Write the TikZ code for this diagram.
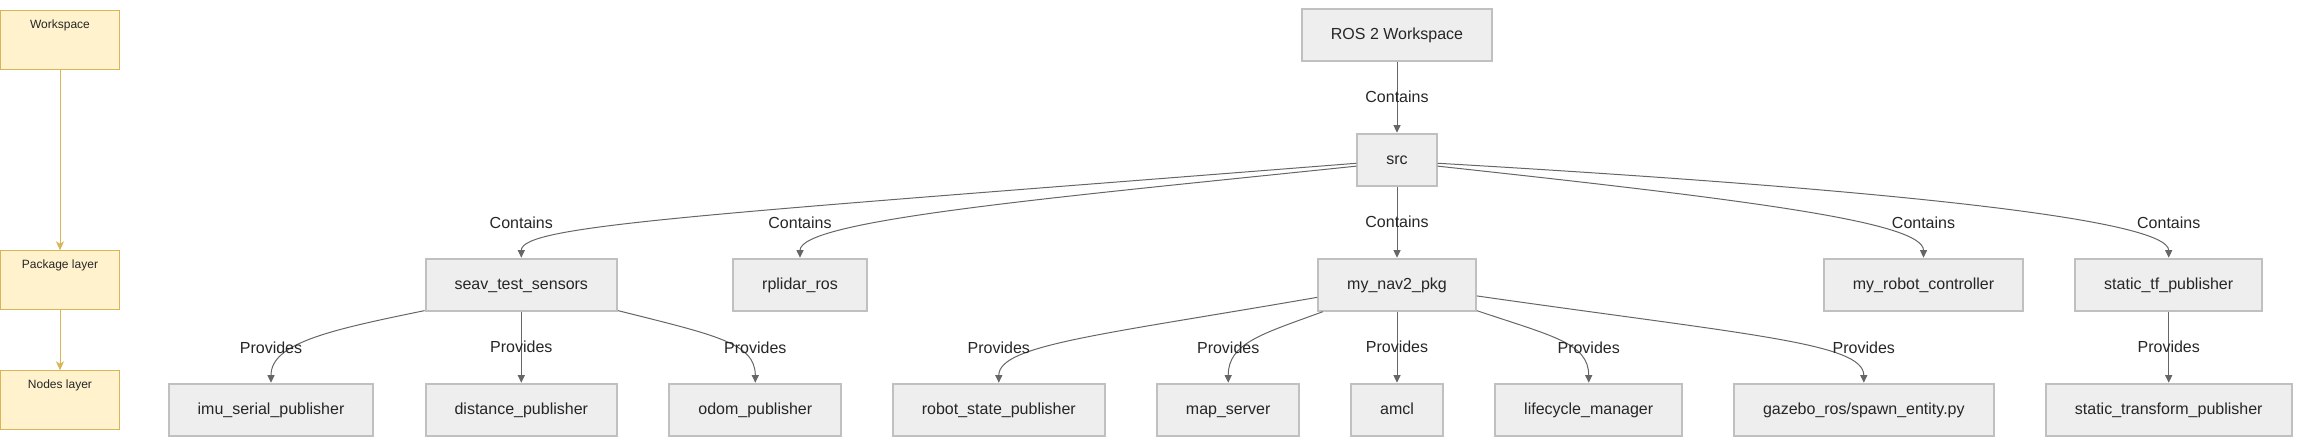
\documentclass[tikz,border=0pt]{standalone}
\usepackage{fontspec}
\setmainfont{Liberation Sans}
\usetikzlibrary{arrows.meta}
\usetikzlibrary{positioning}

\definecolor{pkgfill}{HTML}{EEEEEE}
\definecolor{pkgline}{HTML}{C0C0C0}
\definecolor{linkgray}{HTML}{666666}
\definecolor{legfill}{HTML}{FFF2CC}
\definecolor{legline}{HTML}{D6B656}

\begin{document}
\begin{tikzpicture}[x=1pt, y=-1pt,
                    node distance=71pt,
                    every node/.style={text=black!85},
                    box/.style={draw=pkgline,
                      fill=pkgfill,
                      line width=2pt,
                      minimum height=52pt,
                      inner xsep=29pt,
                      text height=12pt,
                      text depth=1.5pt,
                      font=\fontsize{16}{19}\selectfont},
                    legend/.style={draw=legline,
                      fill=legfill,
                      line width=1pt,
                      minimum width=119pt,
                      minimum height=59pt,
                      inner sep=0pt,
                      text height=18pt,
                      text depth=41pt,
                      font=\fontsize{12}{14}\selectfont},
                    lbl/.style={inner sep=0pt,
                      text height=12pt,
                      text depth=1.5pt,
                      font=\fontsize{16}{19}\selectfont},
                    link/.style={draw=linkgray, line width=1pt,
                      -{Triangle[length=7.5pt,width=7pt]}},
                    leglink/.style={draw=legline, line width=1pt,
                      -{Stealth[length=9pt,width=8pt,inset=2.5pt]}}]
\useasboundingbox (0,0) rectangle (2301,445);

% legend
\node (wslayer) [legend] at (60,40.3) {Workspace};
\node (pkglayer) [legend, below=180pt of wslayer] {Package layer};
\node (nodelayer) [legend, below=60pt of pkglayer] {Nodes layer};
\draw[leglink] (wslayer) -- (pkglayer);
\draw[leglink] (pkglayer) -- (nodelayer);

% workspace and packages
\node (ws) [box] at (1397,34.7) {ROS 2 Workspace};
\node (src) [box, below=of ws] {src};
\node (nav) [box, below=of src] {my\_nav2\_pkg};
\node (seav) [box] at (521.3,284.7) {seav\_test\_sensors};
\node (lidar) [box] at (800,284.7) {rplidar\_ros};
\node (ctrl) [box] at (1923.5,284.7) {my\_robot\_controller};
\node (stf) [box] at (2168.7,284.7) {static\_tf\_publisher};

% nodes
\node (imu) [box] at (271,409.7) {imu\_serial\_publisher};
\node (dist) [box, below=of seav] {distance\_publisher};
\node (odom) [box] at (755.3,409.7) {odom\_publisher};
\node (rsp) [box] at (998.8,409.7) {robot\_state\_publisher};
\node (map) [box] at (1228.2,409.7) {map\_server};
\node (amcl) [box, below=of nav] {amcl};
\node (life) [box] at (1588.7,409.7) {lifecycle\_manager};
\node (spawn) [box] at (1863.8,409.7) {gazebo\_ros/spawn\_entity.py};
\node (stp) [box, below=of stf] {static\_transform\_publisher};

\draw[link] (ws) -- (src) node[lbl, midway] {Contains};
\draw[link] (src.185) .. controls (700,215) and (521.3,225) .. (seav.north)
  node[lbl, at end, yshift=34.7pt] {Contains};
\draw[link] (src.189) .. controls (1050,198) and (800,220) .. (lidar.north)
  node[lbl, at end, yshift=34.7pt] {Contains};
\draw[link] (src) -- (nav) node[lbl, midway] {Contains};
\draw[link] (src.351) .. controls (1750,200) and (1923.5,222) .. (ctrl.north)
  node[lbl, at end, yshift=34.7pt] {Contains};
\draw[link] (src.355) .. controls (1900,190) and (2168.7,220) .. (stf.north)
  node[lbl, at end, yshift=34.7pt] {Contains};

\draw[link] (seav.195) .. controls (330,330) and (271,343) .. (imu.north)
  node[lbl, at end, yshift=34.7pt] {Provides};
\draw[link] (seav) -- (dist) node[lbl, midway] {Provides};
\draw[link] (seav.345) .. controls (715,335) and (755.3,343) .. (odom.north)
  node[lbl, at end, yshift=34.7pt] {Provides};

\draw[link] (nav.189) .. controls (1100,335) and (998.8,345) .. (rsp.north)
  node[lbl, at end, yshift=34.7pt] {Provides};
\draw[link] (nav.200) .. controls (1262,334) and (1228.2,343) .. (map.north)
  node[lbl, at end, yshift=34.7pt] {Provides};
\draw[link] (nav) -- (amcl) node[lbl, midway] {Provides};
\draw[link] (nav.342) .. controls (1552,336) and (1588.7,343) .. (life.north)
  node[lbl, at end, yshift=34.7pt] {Provides};
\draw[link] (nav.352) .. controls (1750,335) and (1863.8,343) .. (spawn.north)
  node[lbl, at end, yshift=34.7pt] {Provides};

\draw[link] (stf) -- (stp) node[lbl, midway] {Provides};
\end{tikzpicture}
\end{document}
